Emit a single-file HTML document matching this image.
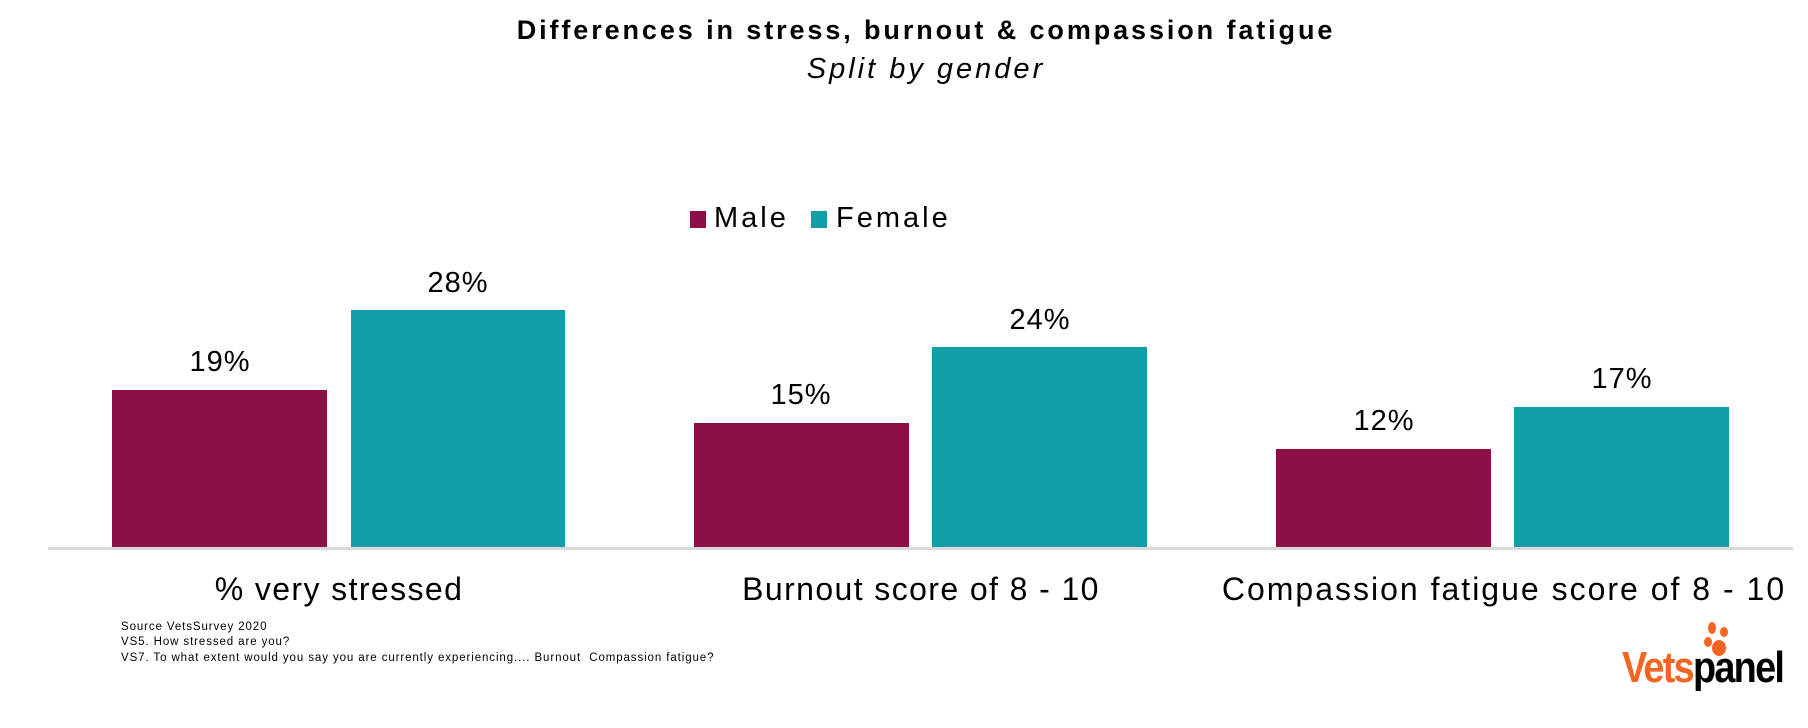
<!DOCTYPE html>
<html><head><meta charset="utf-8"><style>
html,body{margin:0;padding:0;background:#fff;}
body{width:1808px;height:728px;position:relative;overflow:hidden;font-family:"Liberation Sans",sans-serif;color:#000;}
.a{position:absolute;white-space:nowrap;}
.bar{position:absolute;}
.m{background:#8d0f47;}
.f{background:#119ea7;}
.v{position:absolute;font-size:29px;text-align:center;width:240px;letter-spacing:1px;}
.c{position:absolute;font-size:32px;text-align:center;width:600px;letter-spacing:1.4px;}
.fn{position:absolute;left:121px;font-size:11.5px;letter-spacing:0.9px;}
</style></head><body>
<div class="a" style="left:22px;width:1808px;text-align:center;top:15px;font-size:27px;font-weight:bold;letter-spacing:2.9px;">Differences in stress, burnout &amp; compassion fatigue</div>
<div class="a" style="left:22px;width:1808px;text-align:center;top:53px;font-size:29px;font-style:italic;letter-spacing:3px;">Split by gender</div>

<div class="a" style="left:690px;top:211px;width:16px;height:17px;background:#8d0f47;"></div>
<div class="a" style="left:714px;top:202px;font-size:29px;letter-spacing:3px;">Male</div>
<div class="a" style="left:811px;top:211px;width:16px;height:17px;background:#119ea7;"></div>
<div class="a" style="left:836px;top:202px;font-size:29px;letter-spacing:3px;">Female</div>

<div class="bar m" style="left:112px;top:390px;width:215px;height:158px;"></div>
<div class="bar f" style="left:351px;top:310px;width:214px;height:238px;"></div>
<div class="bar m" style="left:694px;top:423px;width:215px;height:125px;"></div>
<div class="bar f" style="left:932px;top:347px;width:215px;height:201px;"></div>
<div class="bar m" style="left:1276px;top:449px;width:215px;height:99px;"></div>
<div class="bar f" style="left:1514px;top:407px;width:215px;height:141px;"></div>
<div class="a" style="left:48px;top:547px;width:1745px;height:3px;background:#d9d9d9;"></div>

<div class="v" style="left:100px;top:346px;">19%</div>
<div class="v" style="left:338px;top:267px;">28%</div>
<div class="v" style="left:681px;top:379px;">15%</div>
<div class="v" style="left:920px;top:304px;">24%</div>
<div class="v" style="left:1264px;top:405px;">12%</div>
<div class="v" style="left:1502px;top:363px;">17%</div>

<div class="c" style="left:39px;top:571px;">% very stressed</div>
<div class="c" style="left:621px;top:571px;">Burnout score of 8 - 10</div>
<div class="c" style="left:1204px;top:571px;letter-spacing:2px;">Compassion fatigue score of 8 - 10</div>

<div class="fn" style="top:621px;">Source VetsSurvey 2020</div>
<div class="fn" style="top:636px;">VS5. How stressed are you?</div>
<div class="fn" style="top:652px;">VS7. To what extent would you say you are currently experiencing.... Burnout &nbsp;Compassion fatigue?</div>

<svg class="a" style="left:1700px;top:620px;" width="40" height="40" viewBox="0 0 40 40">
<g fill="#f26522">
<ellipse cx="12" cy="8" rx="4" ry="6"/>
<ellipse cx="24" cy="12" rx="4" ry="5"/>
<ellipse cx="8" cy="22" rx="4" ry="5"/>
<ellipse cx="19" cy="28" rx="7" ry="8"/>
</g></svg>
<div class="a" style="left:1622px;top:643px;font-size:44px;font-weight:bold;letter-spacing:-2px;color:#f26522;transform:scaleX(0.86);transform-origin:left top;">Vets<span style="color:#000">panel</span></div>
</body></html>
